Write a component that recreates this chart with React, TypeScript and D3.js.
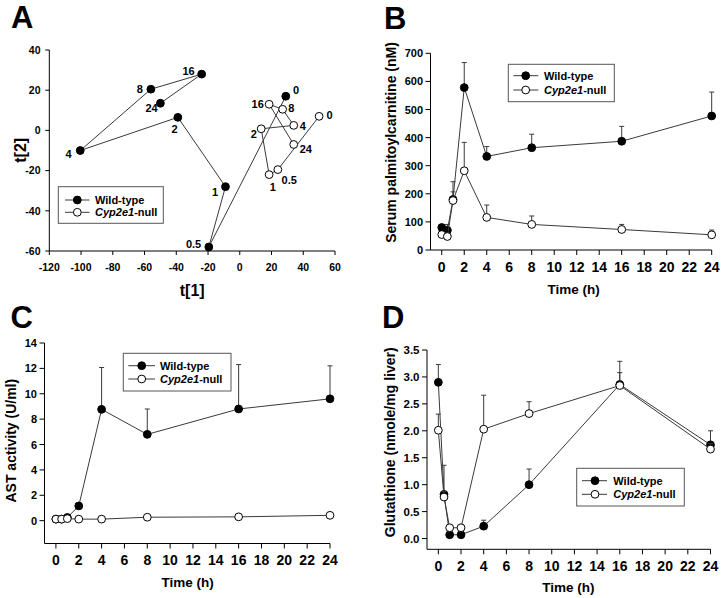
import React from "react";
import * as d3 from "d3";

const FONT = "'Liberation Sans', Arial, Helvetica, sans-serif";

// ---------- shared ----------
const times = [0, 0.5, 1, 2, 4, 8, 16, 24];
const timeLabels = ["0", "0.5", "1", "2", "4", "8", "16", "24"];
const timeTicks = [0, 2, 4, 6, 8, 10, 12, 14, 16, 18, 20, 22, 24];

// ---------- Panel A (PCA scores) ----------
const pcaWtT1 = [29, -19.5, -9, -39, -100.5, -56, -24, -50];
const pcaWtT2 = [17, -58, -28, 6.5, -10, 20.5, 28, 13.5];
const pcaNullT1 = [50, 24, 18.5, 13.5, 34, 27, 18.5, 34];
const pcaNullT2 = [7, -19.5, -22, 0.8, 2.5, 10.5, 13, -7];
const pcaXTicks = [-120, -100, -80, -60, -40, -20, 0, 20, 40, 60];
const pcaYTicks = [-60, -40, -20, 0, 20, 40];

// ---------- Panel B: serum palmitoylcarnitine (nM) ----------
const palWt = [80, 70, 180, 578, 333, 364, 387, 477];
const palWtErr = [0, 21, 63, 89, 35, 48, 53, 85];
const palNull = [55, 48, 176, 282, 116, 91, 73, 54];
const palNullErr = [0, 0, 31, 101, 44, 30, 18, 17];
const palYTicks = [0, 100, 200, 300, 400, 500, 600, 700];

// ---------- Panel C: AST activity (U/ml) ----------
const astWt = [0.12, 0.12, 0.25, 1.16, 8.77, 6.8, 8.8, 9.6];
const astWtErr = [0, 0, 0, 0, 3.3, 2.0, 3.5, 2.6];
const astNull = [0.12, 0.12, 0.16, 0.12, 0.12, 0.27, 0.3, 0.42];
const astNullErr = [0, 0, 0, 0, 0, 0, 0.12, 0.15];
const astYTicks = [0, 2, 4, 6, 8, 10, 12, 14];

// ---------- Panel D: Glutathione (nmole/mg liver) ----------
const gshWt = [2.9, 0.82, 0.07, 0.07, 0.23, 1.0, 2.86, 1.74];
const gshWtErr = [0.33, 0.54, 0, 0, 0.11, 0.29, 0.43, 0.26];
const gshNull = [2.01, 0.77, 0.2, 0.2, 2.03, 2.32, 2.84, 1.66];
const gshNullErr = [0.3, 0.1, 0, 0, 0.63, 0.22, 0.24, 0.1];
const gshYTicks = [0, 0.5, 1, 1.5, 2, 2.5, 3, 3.5];

// label placement for panel A point annotations (layout only)
const wtLabelOffsets: [number, number, string][] = [
  [7.3, -2.4, "start"], [-7.6, 1.3, "end"], [-7.3, 9, "end"], [-3.3, 16, "middle"],
  [-8.6, 7.3, "end"], [-8, 4, "end"], [-7, 0.7, "end"], [-2.7, 8.7, "end"],
];
const nullLabelOffsets: [number, number, string][] = [
  [7.4, 2.4, "start"], [3.7, 14.7, "start"], [0.7, 16.4, "start"], [-4.4, 9, "end"],
  [6, 4.7, "start"], [5.6, 2.7, "start"], [-5.3, 3.6, "end"], [6, 9, "start"],
];

const LINE = "#3a3a3a";
const R = 3.9;

function Legend({ x0, y0, x1, y1, rows, lx0, lx1, sx, tx }: any) {
  return (
    <g>
      <rect x={x0} y={y0} width={x1 - x0} height={y1 - y0} fill="white" stroke="#555" strokeWidth={1} />
      {rows.map((ry: number, i: number) => (
        <g key={i}>
          <line x1={lx0} x2={lx1} y1={ry} y2={ry} stroke={LINE} strokeWidth={1} />
          <circle cx={sx} cy={ry} r={R} fill={i === 0 ? "black" : "white"} stroke="black" strokeWidth={1} />
          <text x={tx} y={ry + 4} fontSize={11} fontWeight="bold" fontFamily={FONT}>
            {i === 0 ? (
              "Wild-type"
            ) : (
              <>
                <tspan fontStyle="italic">Cyp2e1</tspan>-null
              </>
            )}
          </text>
        </g>
      ))}
    </g>
  );
}

function PanelA() {
  const x = d3.scaleLinear().domain([-120, 60]).range([49.3, 335]);
  const y = d3.scaleLinear().domain([-60, 40]).range([251, 50]);
  const line = d3.line<[number, number]>().x((d) => x(d[0])).y((d) => y(d[1]));
  const wt = pcaWtT1.map((v, i) => [v, pcaWtT2[i]] as [number, number]);
  const nu = pcaNullT1.map((v, i) => [v, pcaNullT2[i]] as [number, number]);
  return (
    <g fontFamily={FONT}>
      <text x={11} y={28} fontSize={31} fontWeight="bold">A</text>
      {/* axes */}
      <line x1={x(-120)} x2={x(60)} y1={y(-60)} y2={y(-60)} stroke="black" />
      <line x1={x(-120)} x2={x(-120)} y1={y(-60)} y2={y(40)} stroke="black" />
      {pcaXTicks.map((t) => (
        <g key={t}>
          <line x1={x(t)} x2={x(t)} y1={y(-60)} y2={y(-60) + 4} stroke="black" />
          <text x={x(t)} y={270.5} fontSize={10.5} fontWeight="bold" textAnchor="middle">{t}</text>
        </g>
      ))}
      {pcaYTicks.map((t) => (
        <g key={t}>
          <line x1={x(-120) - 4} x2={x(-120)} y1={y(t)} y2={y(t)} stroke="black" />
          <text x={40.5} y={y(t) + 3.8} fontSize={10.5} fontWeight="bold" textAnchor="end">{t}</text>
        </g>
      ))}
      <text x={192.2} y={296} fontSize={16} fontWeight="bold" textAnchor="middle">t[1]</text>
      <text transform={`translate(25.5,150.3) rotate(-90)`} fontSize={16} fontWeight="bold" textAnchor="middle">t[2]</text>
      {/* lines */}
      <path d={line(wt) || ""} fill="none" stroke={LINE} strokeWidth={1} />
      <path d={line(nu) || ""} fill="none" stroke={LINE} strokeWidth={1} />
      {wt.map((d, i) => (
        <circle key={"w" + i} cx={x(d[0])} cy={y(d[1])} r={R} fill="black" stroke="black" />
      ))}
      {nu.map((d, i) => (
        <circle key={"n" + i} cx={x(d[0])} cy={y(d[1])} r={R} fill="white" stroke="black" />
      ))}
      {wt.map((d, i) => (
        <text key={"wl" + i} x={x(d[0]) + wtLabelOffsets[i][0]} y={y(d[1]) + wtLabelOffsets[i][1]}
          fontSize={11} fontWeight="bold" textAnchor={wtLabelOffsets[i][2] as any}>{timeLabels[i]}</text>
      ))}
      {nu.map((d, i) => (
        <text key={"nl" + i} x={x(d[0]) + nullLabelOffsets[i][0]} y={y(d[1]) + nullLabelOffsets[i][1]}
          fontSize={11} fontWeight="bold" textAnchor={nullLabelOffsets[i][2] as any}>{timeLabels[i]}</text>
      ))}
      <Legend x0={58.3} y0={186.7} x1={163.3} y1={223.3} rows={[200, 212.3]} lx0={65} lx1={89.5} sx={77.3} tx={95} />
    </g>
  );
}

function TimePanel(p: any) {
  const x = d3.scaleLinear().domain([-1, 24]).range(p.xr);
  const y = d3.scaleLinear().domain(p.yd).range(p.yr);
  const line = d3.line<number>().x((_, i) => x(times[i])).y((d) => y(d));
  const y0 = p.yr[0];
  const x0 = p.xr[0];
  const series = [
    { v: p.wt, e: p.wtErr, fill: "black" },
    { v: p.nu, e: p.nuErr, fill: "white" },
  ];
  return (
    <g fontFamily={FONT}>
      <text x={p.letterX} y={p.letterY} fontSize={31} fontWeight="bold">{p.letter}</text>
      <line x1={x0} x2={p.xr[1]} y1={y0} y2={y0} stroke="black" />
      <line x1={x0} x2={x0} y1={y0} y2={p.yr[1]} stroke="black" />
      {timeTicks.map((t) => (
        <g key={t}>
          <line x1={x(t)} x2={x(t)} y1={y0} y2={y0 + 5} stroke="black" />
          <text x={x(t)} y={y0 + 21.7} fontSize={14} fontWeight="bold" textAnchor="middle">{t}</text>
        </g>
      ))}
      {p.yTicks.map((t: number) => (
        <g key={t}>
          <line x1={x0 - 5} x2={x0} y1={y(t)} y2={y(t)} stroke="black" />
          <text x={x0 - 7.5} y={y(t) + 4} fontSize={p.yFont} fontWeight="bold" textAnchor="end">{p.yFmt(t)}</text>
        </g>
      ))}
      <text x={p.xTitleX} y={p.xTitleY} fontSize={13.5} fontWeight="bold" textAnchor="middle">Time (h)</text>
      <text transform={`translate(${p.yTitleX},${p.yTitleY}) rotate(-90)`} fontSize={14} fontWeight="bold" textAnchor="middle">{p.yTitle}</text>
      {series.map((s, si) => (
        <g key={si}>
          <path d={line(s.v) || ""} fill="none" stroke={LINE} strokeWidth={1} />
          {s.v.map((v: number, i: number) =>
            s.e[i] > 0 ? (
              <g key={i}>
                <line x1={x(times[i])} x2={x(times[i])} y1={y(v)} y2={y(v + s.e[i])} stroke={LINE} />
                <line x1={x(times[i]) - 2.5} x2={x(times[i]) + 2.5} y1={y(v + s.e[i])} y2={y(v + s.e[i])} stroke={LINE} />
              </g>
            ) : null
          )}
          {s.v.map((v: number, i: number) => (
            <circle key={"c" + i} cx={x(times[i])} cy={y(v)} r={R} fill={s.fill} stroke="black" />
          ))}
        </g>
      ))}
      <Legend {...p.legend} />
    </g>
  );
}

export default function App() {
  return (
    <svg width={722} height={598} style={{ position: "absolute", left: 0, top: 0, background: "white" }}>
      <rect x={0} y={0} width={722} height={598} fill="white" />
      <PanelA />
      <TimePanel
        letter="B" letterX={384} letterY={28.5}
        xr={[430.5, 711.7]} yd={[0, 700]} yr={[250, 53.3]} yTicks={palYTicks} yFmt={(t: number) => String(t)} yFont={11}
        wt={palWt} wtErr={palWtErr} nu={palNull} nuErr={palNullErr}
        yTitle="Serum palmitoylcarnitine (nM)" yTitleX={396} yTitleY={142.5}
        xTitleX={573.7} xTitleY={294}
        legend={{ x0: 508.3, y0: 64.3, x1: 614.3, y1: 101.7, rows: [75.7, 90], lx0: 513.3, lx1: 538.3, sx: 525.7, tx: 544 }}
      />
      <TimePanel
        letter="C" letterX={10.5} letterY={327.5}
        xr={[44.5, 330]} yd={[-1.8, 14]} yr={[543.5, 343]} yTicks={astYTicks} yFmt={(t: number) => String(t)} yFont={11}
        wt={astWt} wtErr={astWtErr} nu={astNull} nuErr={astNullErr}
        yTitle="AST activity (U/ml)" yTitleX={16} yTitleY={440.7}
        xTitleX={187.7} xTitleY={587}
        legend={{ x0: 123.3, y0: 353.3, x1: 231, y1: 391, rows: [365.7, 379], lx0: 128.3, lx1: 155, sx: 141.7, tx: 160 }}
      />
      <TimePanel
        letter="D" letterX={382} letterY={327.5}
        xr={[427, 710.5]} yd={[-0.2, 3.5]} yr={[549.3, 350]} yTicks={gshYTicks} yFmt={(t: number) => t.toFixed(1)} yFont={11.5}
        wt={gshWt} wtErr={gshWtErr} nu={gshNull} nuErr={gshNullErr}
        yTitle="Glutathione (nmole/mg liver)" yTitleX={395} yTitleY={442.3}
        xTitleX={568.3} xTitleY={591.7}
        legend={{ x0: 576.7, y0: 468.3, x1: 684.3, y1: 506, rows: [480.7, 494.3], lx0: 582, lx1: 607, sx: 595, tx: 613.3 }}
      />
    </svg>
  );
}
